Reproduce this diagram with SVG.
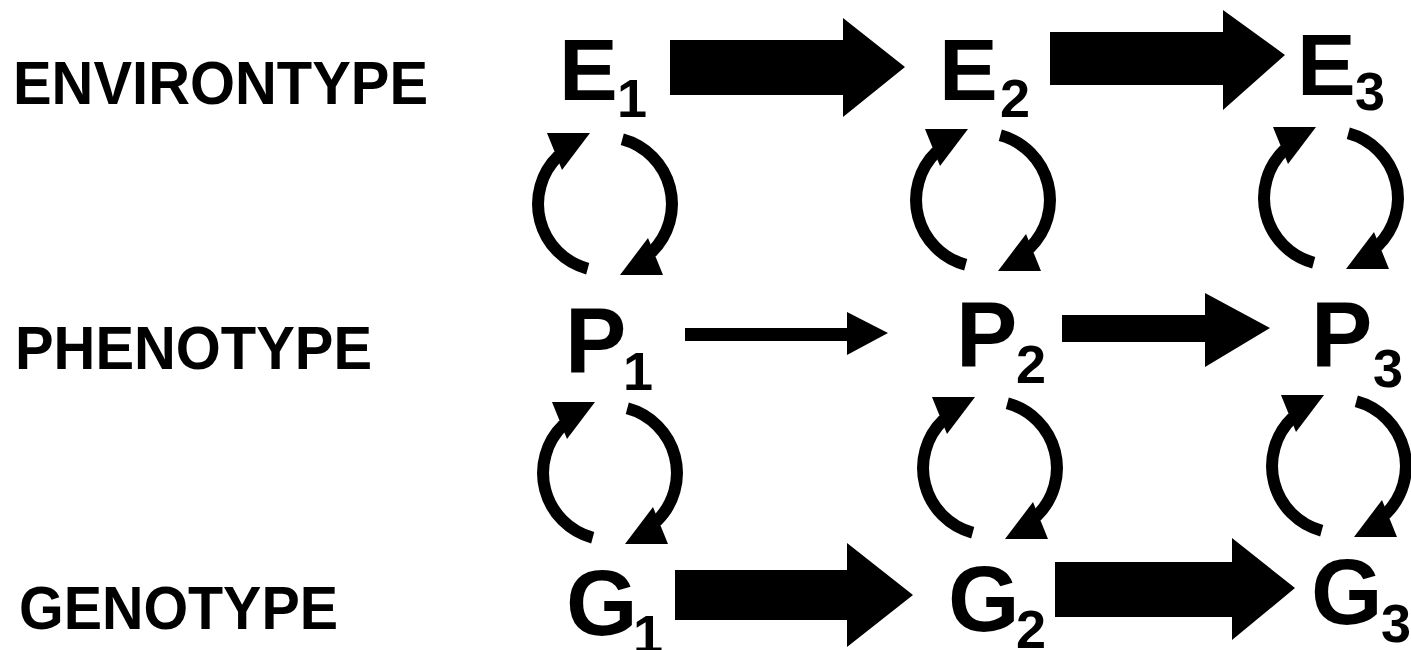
<svg xmlns="http://www.w3.org/2000/svg" xmlns:xlink="http://www.w3.org/1999/xlink" width="1411" height="650" viewBox="0 0 1411 650">
<style>
.lbl{font-family:"Liberation Sans",Arial,sans-serif;font-weight:bold;font-size:61px;fill:#000}
.n{font-family:"Liberation Sans",Arial,sans-serif;font-weight:bold;fill:#000}
.arc{fill:none;stroke:#000;stroke-width:12}
.blk{fill:#000}
</style>
<defs>
<g id="cyc">
<path class="arc" d="M-17.3,64.7 A67,67 0 0 1 -46.5,-48.2"/>
<polygon class="blk" points="-15,-71 -58,-71 -43,-34"/>
<path class="arc" d="M17.3,-64.7 A67,67 0 0 1 46.5,48.2"/>
<polygon class="blk" points="15,71 58,71 43,34"/>
</g>
</defs>
<rect width="1411" height="650" fill="#fff"/>
<g id="labels">
<text class="lbl" x="13" y="104" textLength="415" lengthAdjust="spacingAndGlyphs">ENVIRONTYPE</text>
<text class="lbl" x="15" y="369" textLength="357" lengthAdjust="spacingAndGlyphs">PHENOTYPE</text>
<text class="lbl" x="19" y="629" textLength="319" lengthAdjust="spacingAndGlyphs">GENOTYPE</text>
</g>
<g id="E1"><text class="n" x="559" y="100" font-size="88">E</text><text class="n" x="617" y="117" font-size="54">1</text></g>
<g id="E2"><text class="n" x="939" y="100" font-size="88">E</text><text class="n" x="1000" y="117" font-size="54">2</text></g>
<g id="E3"><text class="n" x="1297" y="95" font-size="88">E</text><text class="n" x="1355" y="110" font-size="54">3</text></g>
<g id="P1"><text class="n" x="565" y="373" font-size="92">P</text><text class="n" x="623" y="390" font-size="54">1</text></g>
<g id="P2"><text class="n" x="956" y="367" font-size="92">P</text><text class="n" x="1016" y="383" font-size="54">2</text></g>
<g id="P3"><text class="n" x="1311" y="367" font-size="92">P</text><text class="n" x="1373" y="387" font-size="54">3</text></g>
<g id="G1"><text class="n" x="566" y="635" font-size="92">G</text><text class="n" x="633" y="653" font-size="54">1</text></g>
<g id="G2"><text class="n" x="948" y="631" font-size="92">G</text><text class="n" x="1016" y="648" font-size="54">2</text></g>
<g id="G3"><text class="n" x="1311" y="624" font-size="92">G</text><text class="n" x="1381" y="642" font-size="54">3</text></g>
<g id="connectors">
<polygon class="blk" points="670,40 843,40 843,18 905,67 843,117 843,95 670,95"/>
<polygon class="blk" points="1050,32 1223,32 1223,10 1285,55 1223,110 1223,85 1050,85"/>
<polygon class="blk" points="685,328 847,328 847,312 888,333 847,355 847,341 685,341"/>
<polygon class="blk" points="1062,315 1205,315 1205,293 1270,328 1205,367 1205,342 1062,342"/>
<polygon class="blk" points="675,570 847,570 847,543 913,595 847,647 847,620 675,620"/>
<polygon class="blk" points="1055,562 1232,562 1232,538 1295,588 1232,640 1232,617 1055,617"/>
<use xlink:href="#cyc" href="#cyc" x="605" y="204"/>
<use xlink:href="#cyc" href="#cyc" x="983" y="200"/>
<use xlink:href="#cyc" href="#cyc" x="1331" y="198"/>
<use xlink:href="#cyc" href="#cyc" x="610" y="473"/>
<use xlink:href="#cyc" href="#cyc" x="990" y="468"/>
<use xlink:href="#cyc" href="#cyc" x="1339" y="466"/>
</g>
</svg>
